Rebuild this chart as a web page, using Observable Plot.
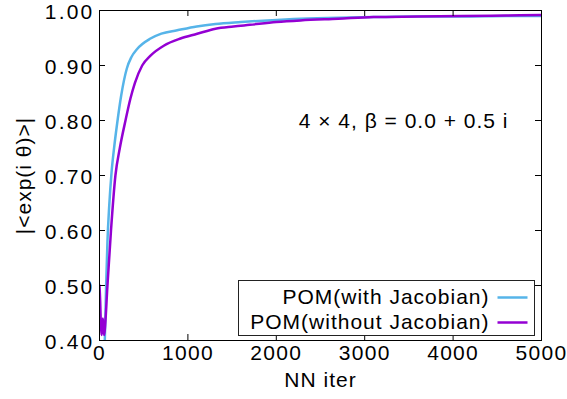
<!DOCTYPE html>
<html>
<head>
<meta charset="utf-8">
<script src="https://cdn.jsdelivr.net/npm/d3@7"></script>
<script src="https://cdn.jsdelivr.net/npm/@observablehq/plot@0.6"></script>
<style>
  html, body { margin: 0; padding: 0; background: #fff; }
  g[aria-label="y-axis tick label"] { letter-spacing: 2.2px; }
  g[aria-label="x-axis tick label"] { letter-spacing: 1.3px; }
</style>
</head>
<body>
<div id="chart"></div>
<script>
// ---- data ----
const withJacIter  = [45, 60, 75, 90, 110, 136, 165, 200, 245, 310, 360, 426, 577, 700, 879, 1100, 1312, 1600, 1900, 2274, 2700, 3100, 3600, 4100, 4600, 5000];
const withJacValue = [0.36, 0.40, 0.50, 0.58, 0.645, 0.705, 0.75, 0.795, 0.845, 0.895, 0.915, 0.930, 0.949, 0.958, 0.964, 0.971, 0.9755, 0.979, 0.982, 0.985, 0.987, 0.988, 0.989, 0.989, 0.990, 0.990];

const withoutJacIter  = [0, 8, 15, 22, 30, 38, 45, 52, 60, 90, 130, 180, 230, 294, 350, 400, 483, 577, 727, 916, 1105, 1312, 1516, 1700, 2000, 2274, 2700, 3100, 3600, 4100, 4600, 5000];
const withoutJacValue = [0.50, 0.47, 0.43, 0.41, 0.42, 0.44, 0.42, 0.41, 0.42, 0.50, 0.60, 0.70, 0.75, 0.80, 0.84, 0.868, 0.90, 0.918, 0.936, 0.949, 0.9576, 0.967, 0.971, 0.974, 0.979, 0.982, 0.985, 0.988, 0.989, 0.990, 0.991, 0.992];

const seriesNames = ["POM(with Jacobian)", "POM(without Jacobian)"];
const xTicks = [0, 1000, 2000, 3000, 4000, 5000];
const yTicks = [0.4, 0.5, 0.6, 0.7, 0.8, 0.9, 1.0];
const xLabel = "NN iter";
const yLabel = "|<exp(i θ)>|";
const annotation = "4 × 4, β = 0.0 + 0.5 i";

// ---- styles / layout ----
const colors = ["#56b4e9", "#9400d3"];
const W = 567, H = 399, mL = 99, mR = 26, mT = 10, mB = 59;
const xDom = [0, 5000], yDom = [0.4, 1.0];
const fw = W - mL - mR, fh = H - mT - mB;
const invX = px => xDom[0] + (px - mL) / fw * (xDom[1] - xDom[0]);
const invY = py => yDom[1] - (py - mT) / fh * (yDom[1] - yDom[0]);

const seriesData = [
  withJacIter.map((it, i) => ({iter: it, value: withJacValue[i]})),
  withoutJacIter.map((it, i) => ({iter: it, value: withoutJacValue[i]}))
];
const legendRows = seriesNames.map((name, i) => ({name, i}));
const tickLen = 6;

const chart = Plot.plot({
  width: W, height: H,
  marginLeft: mL, marginRight: mR, marginTop: mT, marginBottom: mB,
  x: {domain: xDom},
  y: {domain: yDom},
  style: {
    fontFamily: "'Liberation Sans', Arial, Helvetica, sans-serif",
    fontSize: "21px",
    letterSpacing: "1px",
    background: "white",
    color: "black"
  },
  marks: [
    Plot.line(seriesData[0], {x: "iter", y: "value", stroke: colors[0], strokeWidth: 2.5, curve: "monotone-x", clip: true}),
    Plot.line(seriesData[1], {x: "iter", y: "value", stroke: colors[1], strokeWidth: 2.5, curve: "monotone-x", clip: true}),
    Plot.frame({stroke: "black", strokeWidth: 1}),
    // inward ticks on all four sides
    Plot.ruleX(xTicks, {x: d => d, insetTop: fh - tickLen, stroke: "black"}),
    Plot.ruleX(xTicks, {x: d => d, insetBottom: fh - tickLen, stroke: "black"}),
    Plot.ruleY(yTicks, {y: d => d, insetRight: fw - tickLen, stroke: "black"}),
    Plot.ruleY(yTicks, {y: d => d, insetLeft: fw - tickLen, stroke: "black"}),
    Plot.axisX({ticks: xTicks, tickSize: 0, tickPadding: 5, tickFormat: d => String(d), label: null}),
    Plot.axisY({ticks: yTicks, tickSize: 0, tickPadding: 5, dy: 1.5, tickFormat: d => d.toFixed(2), label: null}),
    Plot.text([xLabel], {text: d => d, frameAnchor: "bottom", textAnchor: "middle", dy: 40, lineAnchor: "middle"}),
    Plot.text([yLabel], {text: d => d, frameAnchor: "left", textAnchor: "middle", rotate: -90, dx: -75, lineAnchor: "middle"}),
    Plot.text([annotation], {text: d => d, frameAnchor: "top-right", textAnchor: "end", dx: -33, dy: 111, lineAnchor: "middle"}),
    // legend
    Plot.frame({insetLeft: 139, insetRight: 7, insetTop: 270, insetBottom: 5, stroke: "#222", fill: "white", strokeWidth: 1}),
    Plot.text(legendRows, {text: "name", textAnchor: "end", lineAnchor: "middle",
      y: d => invY(297 + 25 * d.i), x: () => invX(489)}),
    Plot.link(legendRows, {
      x1: () => invX(497), x2: () => invX(527),
      y1: d => invY(297 + 25 * d.i), y2: d => invY(297 + 25 * d.i),
      stroke: d => colors[d.i], strokeWidth: 2.5
    })
  ]
});
document.getElementById("chart").appendChild(chart);
</script>
</body>
</html>
